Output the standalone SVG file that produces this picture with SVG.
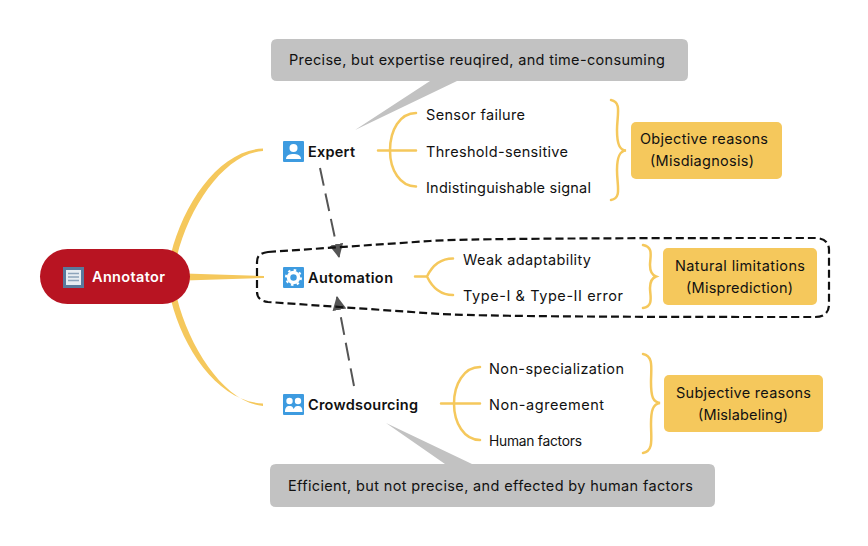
<svg xmlns="http://www.w3.org/2000/svg" width="868" height="546" viewBox="0 0 868 546">
<style>
text{font-family:"Inter","Liberation Sans",Arial,sans-serif;font-size:14.500px;fill:#111}
.b{font-weight:600}
.y{fill:#f5c85c}
.line{fill:none;stroke:#f5c85c;stroke-width:2.500;stroke-linecap:round}
.note{fill:#c2c2c2}
.tag{fill:#f5c85c}
.arrow{fill:none;stroke:#555;stroke-width:2;stroke-dasharray:18 8}
.ic{fill:#3d9be0}
</style>
<defs>
<marker id="ah" markerUnits="userSpaceOnUse" markerWidth="16" markerHeight="16" refX="13" refY="7" orient="auto"><path d="M0 0L14 7L0 14Z" fill="#555"/></marker>
</defs>
<rect width="868" height="546" fill="#fff"/>
<g id="connectors">
<path class="y" d="M171 254C184 202 220 150 263 148.500V151C226 153 190 204 177 256Z"/>
<path class="y" d="M185 273.500L264 276V278L185 280.500Z"/>
<path class="y" d="M171 300C184 352 220 402 263 403.500V406C226 403 190 350 177 298Z"/>
<path class="line" d="M378 150.500H416M416 113C400 113 390 130 390 150.500C390 170 400 186.500 416 186.500"/>
<path class="line" d="M415 276.500H427M453 258.500C440 258.500 432 266 427 276.500C432 287 440 295 453 295"/>
<path class="line" d="M441 403.500H480M480 367C464 367 454 384 454 403.500C454 423 464 440 480 440"/>
<path class="line" d="M611 100C622 102 617 115 617 130C617 145 620 150 626 150.500C620 151 617 156 617 170C617 186 622 198 611 200"/>
<path class="line" d="M643 245C654 247 650 257 650 265C650 272 652 275 656 276.500C652 278 650 281 650 288C650 296 654 306 643 308"/>
<path class="line" d="M643 354C654 356 651 369 651 382C651 397 653 402 660 403C653 404 651 410 651 424C651 438 654 451 643 453"/>
<path class="arrow" d="M320 168L339 257" marker-end="url(#ah)"/>
<path class="arrow" d="M354 386L337 297" marker-end="url(#ah)"/>
<path d="M268 252L430 241C470 238 700 238 815 238C825 238 829 243 829 250V304C829 312 825 317 815 317C700 317 500 317 440 314L268 302C260 301 257 297 257 292V262C257 256 260 253 268 252Z" fill="none" stroke="#111" stroke-width="2.200" stroke-dasharray="8 4"/>
</g>
<g id="annotator">
<rect x="40" y="249" width="150" height="55" rx="27.500" fill="#b81422"/>
<rect x="63" y="267" width="21" height="21" fill="#5a7a9c"/>
<rect x="66" y="270" width="15" height="15" fill="#e8edf2"/>
<path d="M68 273.500H79M68 277H79M68 280.500H79" stroke="#8da4bb" stroke-width="1.500"/>
<text class="b" x="92" y="282" textLength="73" style="fill:#fff">Annotator</text>
</g>
<g id="expert">
<rect class="ic" x="283" y="141" width="21" height="21" rx="1"/>
<circle cx="293.500" cy="148" r="4" fill="#fff"/>
<path d="M286 159C286 155 290 154 293.500 154S301 155 301 159Z" fill="#fff"/>
<text class="b" x="308" y="157" textLength="47">Expert</text>
</g>
<g id="automation">
<rect class="ic" x="283" y="267" width="21" height="21" rx="1"/>
<circle cx="293.500" cy="277.500" r="5" fill="none" stroke="#fff" stroke-width="3.500"/>
<circle cx="293.500" cy="277.500" r="7.500" fill="none" stroke="#fff" stroke-width="2" stroke-dasharray="2.500 3.390"/>
<text class="b" x="308" y="283" textLength="85">Automation</text>
</g>
<g id="crowdsourcing">
<rect class="ic" x="283" y="394" width="21" height="21" rx="1"/>
<circle cx="289.500" cy="401" r="3.200" fill="#fff"/>
<circle cx="298" cy="401" r="3.200" fill="#fff"/>
<path d="M285 412C285 407 287 406 289.500 406S294 407 294 412ZM293.500 412C293.500 407 295.500 406 298 406S302.500 407 302.500 412Z" fill="#fff"/>
<text class="b" x="308" y="410" textLength="110">Crowdsourcing</text>
</g>
<g id="note-expert">
<path class="note" d="M277 39H682Q688 39 688 45V75Q688 81 682 81H457L355 130L430 81H277Q271 81 271 75V45Q271 39 277 39Z"/>
<text x="289" y="65" textLength="376">Precise, but expertise reuqired, and time-consuming</text>
</g>
<g id="note-crowd">
<path class="note" d="M276 464H445L386 423L472 464H709Q715 464 715 470V501Q715 507 709 507H276Q270 507 270 501V470Q270 464 276 464Z"/>
<text x="288" y="491" textLength="405">Efficient, but not precise, and effected by human factors</text>
</g>
<g id="e1"><text x="426" y="120" textLength="99">Sensor failure</text></g>
<g id="e2"><text x="426" y="157" textLength="142">Threshold-sensitive</text></g>
<g id="e3"><text x="426" y="193" textLength="165">Indistinguishable signal</text></g>
<g id="a1"><text x="463" y="265" textLength="128">Weak adaptability</text></g>
<g id="a2"><text x="463" y="301" textLength="160">Type-I &amp; Type-II error</text></g>
<g id="c1"><text x="489" y="374" textLength="135">Non-specialization</text></g>
<g id="c2"><text x="489" y="410" textLength="115">Non-agreement</text></g>
<g id="c3"><text x="489" y="446" style="font-size:13.800px" textLength="93">Human factors</text></g>
<g id="tag-objective">
<rect class="tag" x="631" y="122" width="151" height="57" rx="5"/>
<text x="640" y="144" textLength="128">Objective reasons</text>
<text x="650" y="166" textLength="104">(Misdiagnosis)</text>
</g>
<g id="tag-natural">
<rect class="tag" x="663" y="248" width="154" height="57" rx="5"/>
<text x="675" y="271" textLength="130">Natural limitations</text>
<text x="686" y="293" textLength="107">(Misprediction)</text>
</g>
<g id="tag-subjective">
<rect class="tag" x="664" y="375" width="159" height="57" rx="5"/>
<text x="676" y="398" textLength="135">Subjective reasons</text>
<text x="698" y="420" textLength="90">(Mislabeling)</text>
</g>
</svg>
